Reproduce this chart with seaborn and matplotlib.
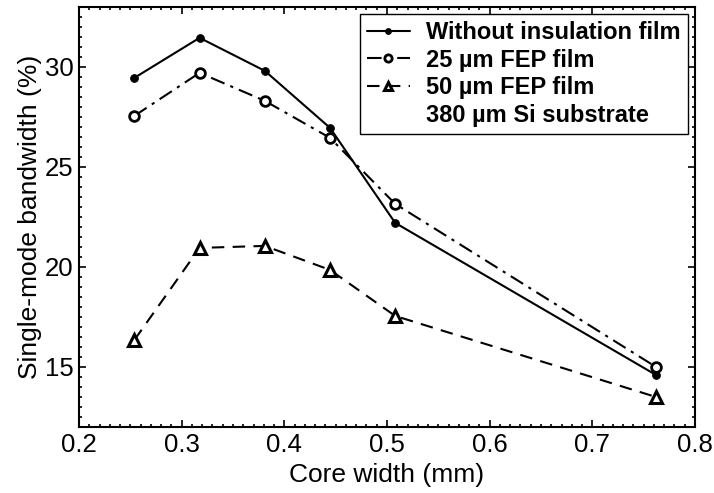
import numpy as np
import pandas as pd
import matplotlib
matplotlib.use("Agg")
import matplotlib.pyplot as plt
from matplotlib.lines import Line2D
from matplotlib.ticker import MultipleLocator
import seaborn as sns

# ---------------- dados ----------------
core_width = [0.254, 0.3175, 0.381, 0.4445, 0.508, 0.762]   # mm
sem_filme = [29.45, 31.45, 29.8, 26.95, 22.2, 14.6]
fep_25 = [27.55, 29.7, 28.3, 26.45, 23.15, 15.0]
fep_50 = [16.35, 20.95, 21.05, 19.85, 17.55, 13.5]

rotulos = ["Without insulation film", "25 \u00b5m FEP film",
           "50 \u00b5m FEP film", "380 \u00b5m Si substrate"]

sns.set_style("ticks")
plt.rcParams["font.family"] = ["Liberation Sans", "DejaVu Sans"]
plt.rcParams["text.color"] = "black"
plt.rcParams["axes.labelcolor"] = "black"

fig = plt.figure(figsize=(7.14, 4.93), dpi=100)
ax = fig.add_axes([0.1106, 0.1339, 0.8628, 0.8523])

estilos = [
    dict(y=sem_filme, marker="o", linestyle="-", markersize=5.5,
         markerfacecolor="black"),
    dict(y=fep_25, marker="o", linestyle=(0, (7, 3, 1.5, 3)), markersize=7,
         markerfacecolor="white", markeredgewidth=2),
    dict(y=fep_50, marker="^", linestyle=(0, (6, 4)), markersize=8,
         markerfacecolor="white", markeredgewidth=2.2),
]

for est, rot in zip(estilos, rotulos):
    y = est.pop("y")
    sns.lineplot(x=core_width, y=y, ax=ax, color="black", linewidth=1.5,
                 markeredgecolor="black", label=rot, **est)

handles, labels = ax.get_legend_handles_labels()
handles.append(Line2D([], [], linestyle="none", marker=None))
labels.append(rotulos[3])

leg = ax.legend(handles, labels, loc="upper right", frameon=True, fancybox=False,
                edgecolor="black", framealpha=1, handlelength=1.8,
                borderpad=0.3, labelspacing=0.2, handletextpad=0.7,
                borderaxespad=0.3, markerscale=0.75,
                prop=dict(weight="bold", size=17))
leg.get_frame().set_linewidth(1.0)

ax.set_xlim(0.2, 0.8)
ax.set_ylim(12, 33)
ax.xaxis.set_major_locator(MultipleLocator(0.1))
ax.xaxis.set_minor_locator(MultipleLocator(0.01))
ax.yaxis.set_major_locator(MultipleLocator(5))
ax.yaxis.set_minor_locator(MultipleLocator(0.5))
ax.set_xticklabels([f"{v:.1f}" for v in ax.get_xticks()])

ax.tick_params(which="both", direction="in", top=True, right=True,
               labelsize=18.5, colors="black", width=1.2)
ax.tick_params(which="major", length=5, pad=4)
ax.tick_params(which="minor", length=2.5)

for s in ax.spines.values():
    s.set_linewidth(1.5)
    s.set_color("black")

ax.set_xlabel("Core width (mm)", fontsize=19, labelpad=5)
ax.set_ylabel("Single-mode bandwidth (%)", fontsize=19, labelpad=2)

fig.savefig("out.png", dpi=100, facecolor="white")
